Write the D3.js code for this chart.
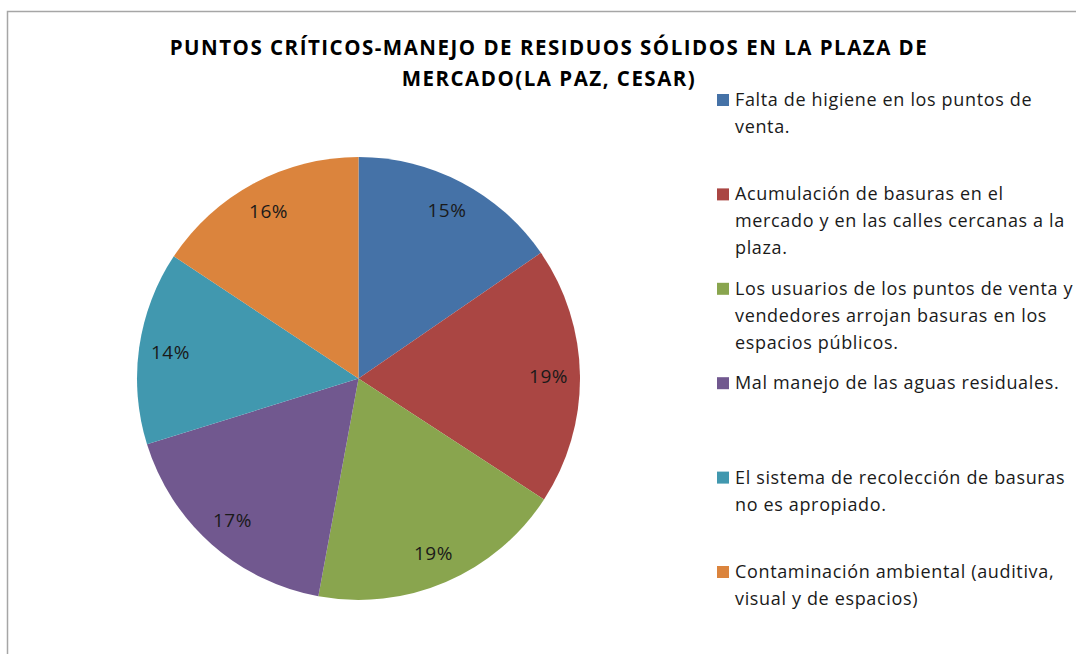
<!DOCTYPE html>
<html>
<head>
<meta charset="utf-8">
<script src="https://cdn.jsdelivr.net/npm/d3@7"></script>
<style>
  html, body { margin: 0; padding: 0; background: #fff; }
  svg { display: block; }
  text { font-family: "Open Sans", Lato, sans-serif; }
</style>
</head>
<body>
<svg id="chart" width="1076" height="654"></svg>
<script>
const titleLines = ["PUNTOS CRÍTICOS-MANEJO DE RESIDUOS SÓLIDOS EN LA PLAZA DE", "MERCADO(LA PAZ, CESAR)"];
const categories = [
  "Falta de higiene en los puntos de venta.",
  "Acumulación de basuras en el mercado y en las calles cercanas a la plaza.",
  "Los usuarios de los puntos de venta y vendedores arrojan basuras en los espacios públicos.",
  "Mal manejo de las aguas residuales.",
  "El sistema de recolección de basuras no es apropiado.",
  "Contaminación ambiental (auditiva, visual y de espacios)"
];
const legendLines = [
  ["Falta de higiene en los puntos de", "venta."],
  ["Acumulación de basuras en el", "mercado y en las calles cercanas a la", "plaza."],
  ["Los usuarios de los puntos de venta y", "vendedores arrojan basuras en los", "espacios públicos."],
  ["Mal manejo de las aguas residuales."],
  ["El sistema de recolección de basuras", "no es apropiado."],
  ["Contaminación ambiental (auditiva,", "visual y de espacios)"]
];
const values = [15.4, 18.8, 18.7, 17.3, 14.1, 15.7];
const colors = ["#4572A7", "#AA4643", "#89A54E", "#71588F", "#4198AF", "#DB843D"];

const svg = d3.select("#chart");

// chart area border
svg.append("path")
  .attr("d", "M7.5,1076 L7.5,11.5 L1076,11.5")
  .attr("fill", "none").attr("stroke", "#a6a6a6").attr("stroke-width", 1.5);

// title
svg.append("g").selectAll("text").data(titleLines).join("text")
  .attr("x", 549)
  .attr("y", (d, i) => 55 + i * 31)
  .attr("text-anchor", "middle")
  .attr("font-size", 20.5)
  .attr("letter-spacing", 1.5)
  .attr("font-weight", "bold")
  .attr("fill", "#000")
  .text(d => d);

// pie
const cx = 358.5, cy = 378.5, R = 221.5;
const data = categories.map((c, i) => ({ cat: c, value: values[i], color: colors[i] }));
const pie = d3.pie().value(d => d.value).sort(null);
const arcs = pie(data);
const arc = d3.arc().innerRadius(0).outerRadius(R);
const labelArc = d3.arc().innerRadius(190).outerRadius(190);

const g = svg.append("g").attr("transform", `translate(${cx},${cy})`);
g.selectAll("path").data(arcs).join("path")
  .attr("d", arc)
  .attr("fill", d => d.data.color);

g.selectAll("text").data(arcs).join("text")
  .attr("transform", d => `translate(${labelArc.centroid(d)})`)
  .attr("text-anchor", "middle")
  .attr("dy", "0.36em")
  .attr("font-size", 19)
  .attr("letter-spacing", 0.5)
  .attr("fill", "#1a1a1a")
  .text(d => Math.round(d.data.value) + "%");

// legend
const ly = d3.scaleLinear().domain([0, 5]).range([106, 578]);
const leg = svg.append("g").selectAll("g").data(data).join("g")
  .attr("transform", (d, i) => `translate(0,${ly(i)})`);
leg.append("rect")
  .attr("x", 717).attr("y", -12).attr("width", 12).attr("height", 12)
  .attr("fill", d => d.color);
leg.append("text")
  .attr("x", 735)
  .attr("font-size", 18)
  .attr("letter-spacing", 0.65)
  .attr("fill", "#1a1a1a")
  .selectAll("tspan").data((d, i) => legendLines[i]).join("tspan")
  .attr("x", 735)
  .attr("y", (d, j) => j * 27)
  .text(d => d);
</script>
</body>
</html>
